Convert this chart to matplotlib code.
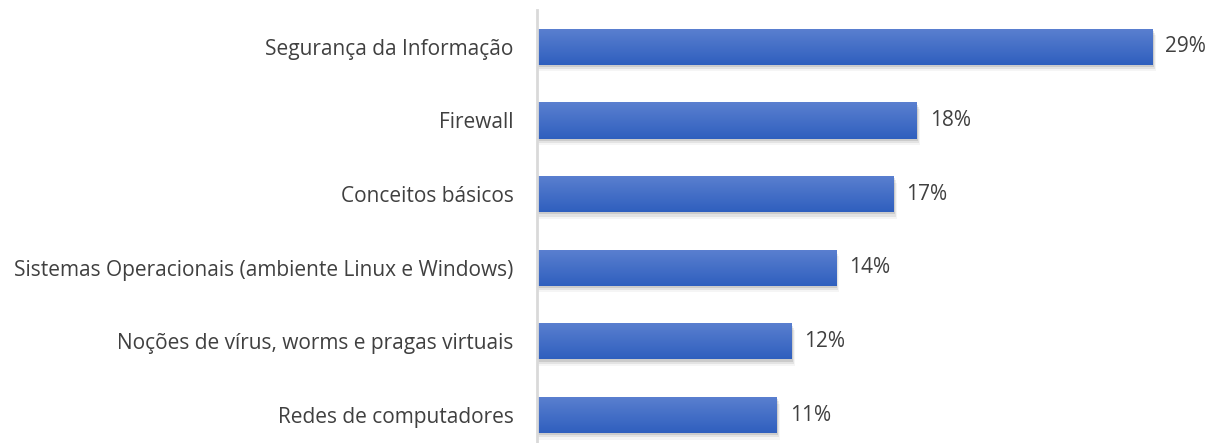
import numpy as np
import matplotlib
matplotlib.use("Agg")
import matplotlib.pyplot as plt
from matplotlib.colors import LinearSegmentedColormap

categories = [
    "Segurança da Informação",
    "Firewall",
    "Conceitos básicos",
    "Sistemas Operacionais (ambiente Linux e Windows)",
    "Noções de vírus, worms e pragas virtuais",
    "Redes de computadores",
]
values = [29.0, 17.9, 16.8, 14.1, 12.0, 11.3]
labels = ["29%", "18%", "17%", "14%", "12%", "11%"]

plt.rcParams["font.family"] = ["Open Sans", "DejaVu Sans"]
text_color = "#404040"

fig = plt.figure(figsize=(12.12, 4.43), dpi=100)
ax = fig.add_axes([537 / 1212, 0, 1 - 537 / 1212, 433 / 443])

y = np.arange(len(categories))
height = 0.49
grad = LinearSegmentedColormap.from_list("bar", ["#5B80D0", "#2F5FBE"])
gradient = np.linspace(0, 1, 256).reshape(-1, 1)

for yi, v in zip(y, values):
    # soft shadow under the bar
    for k, a in enumerate([0.10, 0.07, 0.04]):
        off = 0.03 + 0.03 * k
        ax.barh(yi + off, v + 0.05 * (k + 1), height=height, left=0,
                color="black", alpha=a, linewidth=0, zorder=1)
    bar = ax.barh(yi, v, height=height, color="none", linewidth=0, zorder=2)[0]
    im = ax.imshow(gradient, cmap=grad, aspect="auto", zorder=3,
                   extent=(0, v, yi + height / 2, yi - height / 2))
    im.set_clip_path(bar)

for yi, v, lab in zip(y, values, labels):
    ax.text(v + 0.6, yi, lab, va="center", ha="left", fontsize=15, color=text_color)

ax.set_yticks(y)
ax.set_yticklabels(categories, fontsize=15, color=text_color)
ax.tick_params(axis="y", length=0, pad=17)
ax.set_xticks([])
ax.set_xlim(0, 31.8)
ax.set_ylim(5.38, -0.5)

for s in ["top", "right", "bottom"]:
    ax.spines[s].set_visible(False)
ax.spines["left"].set_color("#D9D9D9")
ax.spines["left"].set_linewidth(2)
ax.spines["left"].set_zorder(5)

fig.savefig("out.png", dpi=100)
